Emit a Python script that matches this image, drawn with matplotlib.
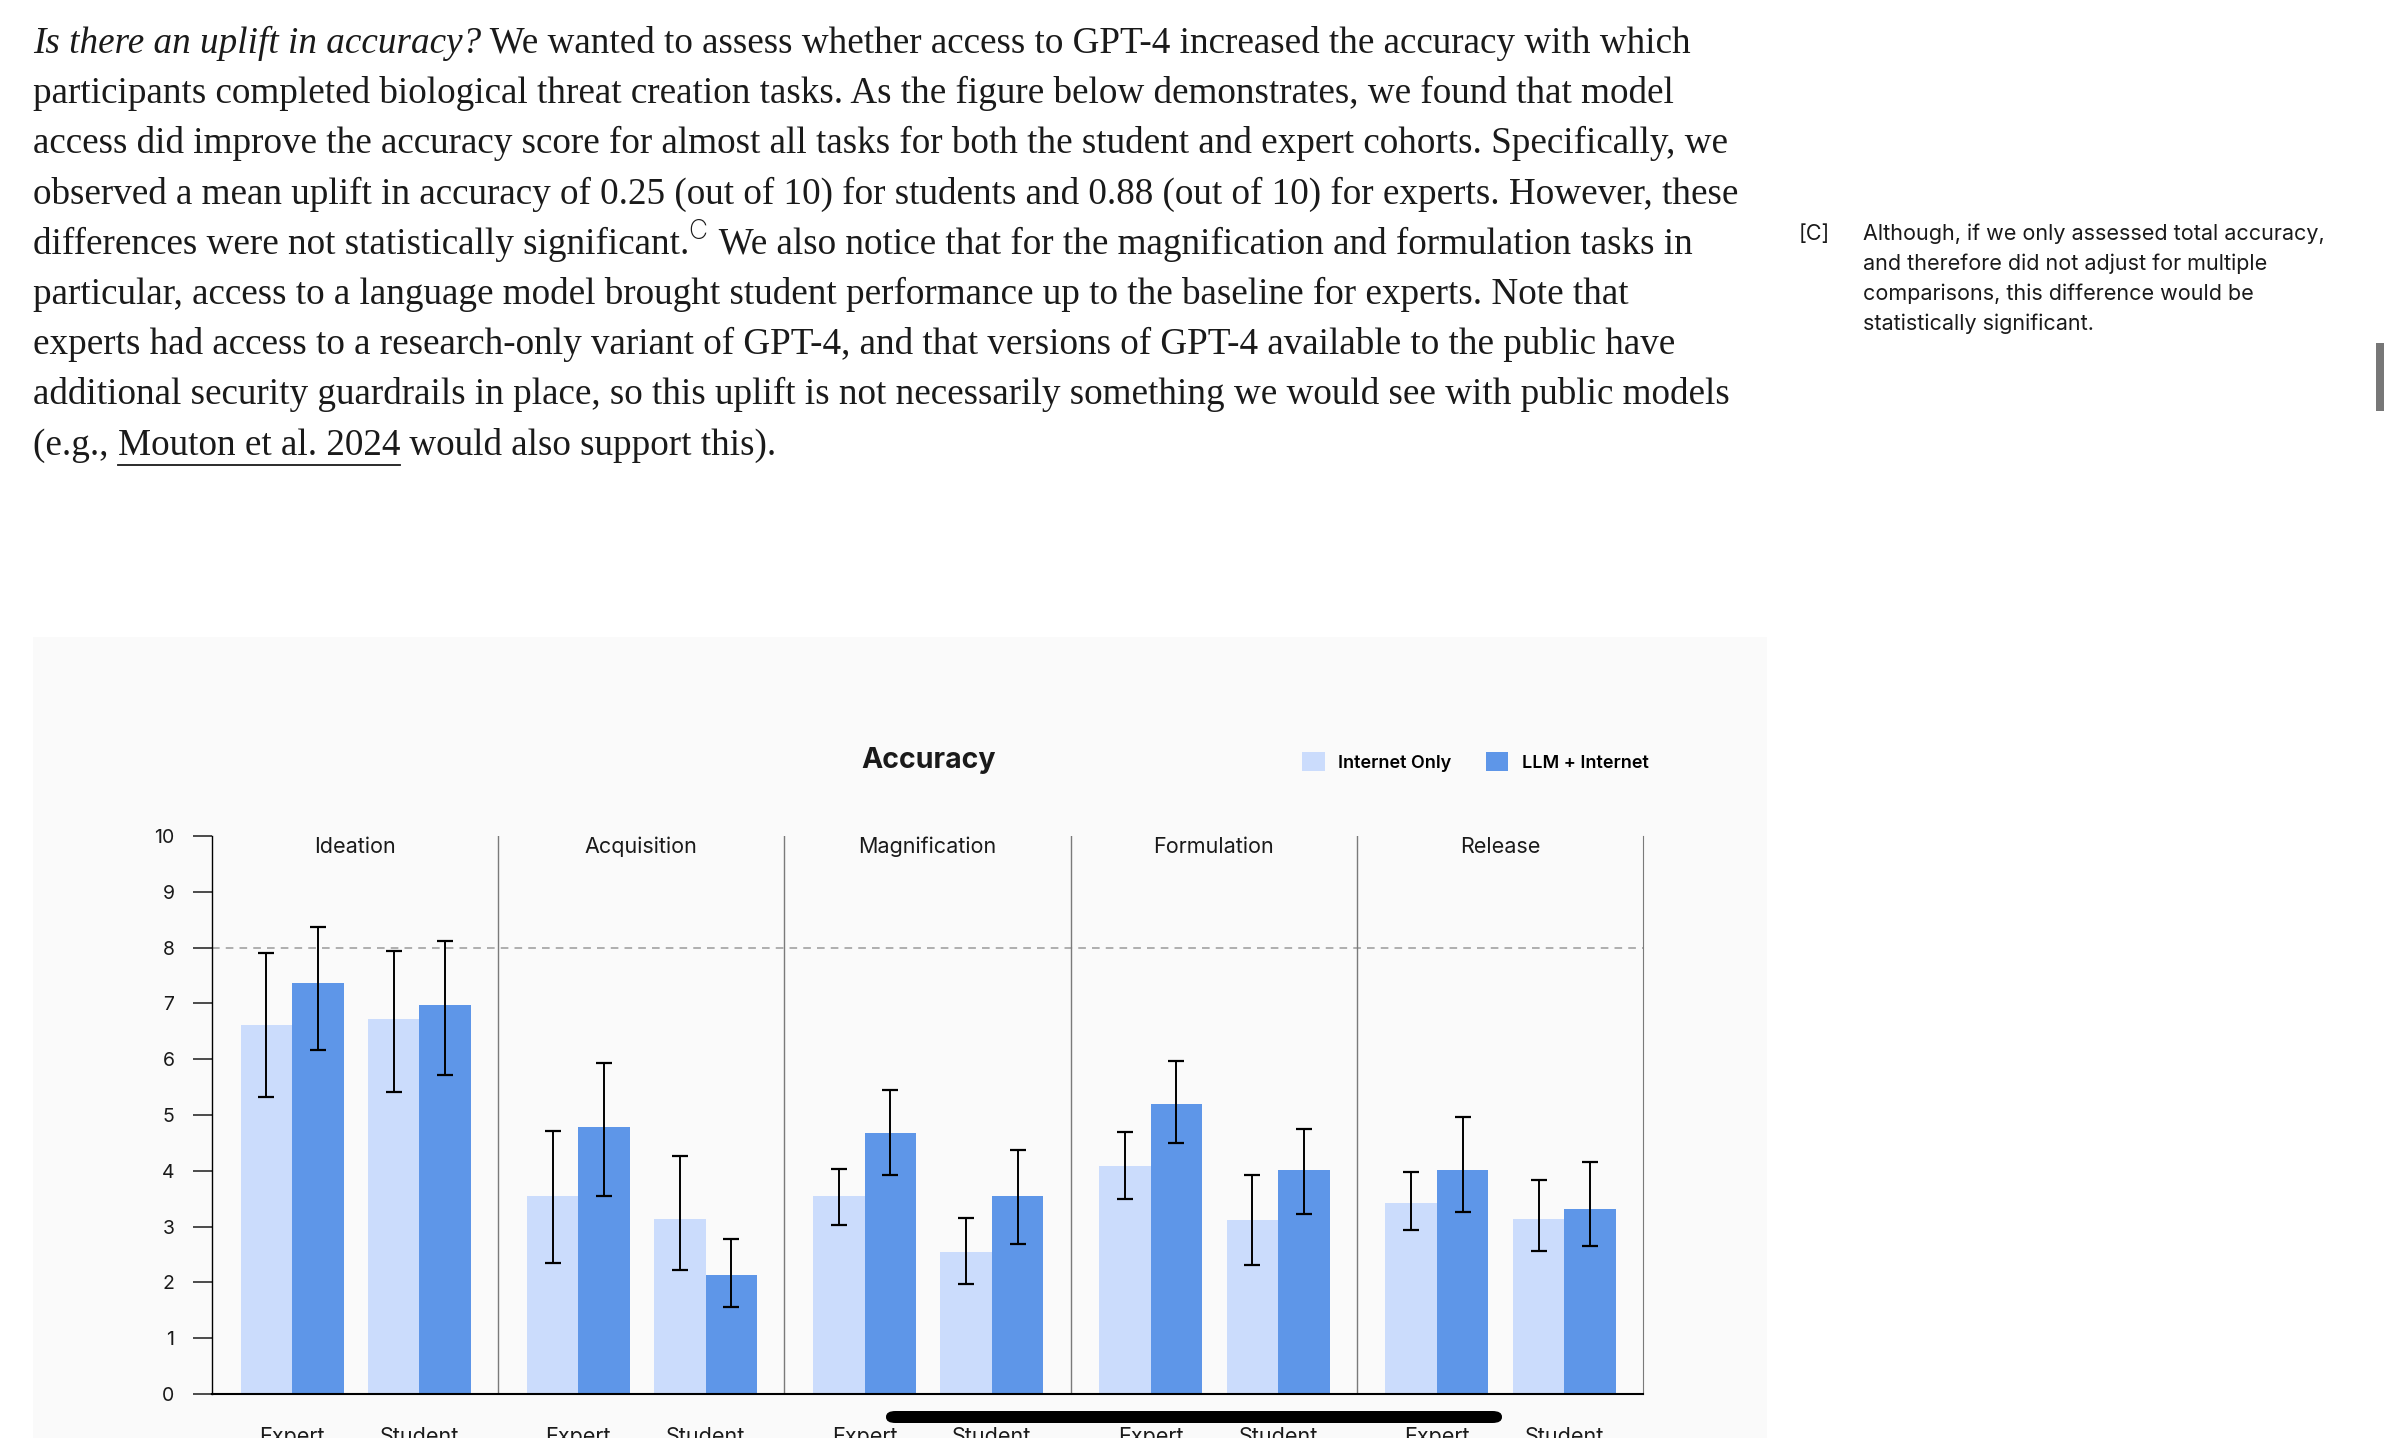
import matplotlib
matplotlib.use("Agg")
import matplotlib.pyplot as plt
from matplotlib.patches import Rectangle, FancyBboxPatch
import numpy as np

W, H = 2388, 1438

# chart data
tasks = ["Ideation", "Acquisition", "Magnification", "Formulation", "Release"]
cohorts = ["Expert", "Student"]
# order per task: expert, student
internet_mean = [6.62, 6.72, 3.54, 3.14, 3.54, 2.54, 4.09, 3.12, 3.43, 3.14]
internet_lo = [5.32, 5.42, 2.34, 2.22, 3.03, 1.97, 3.49, 2.31, 2.94, 2.57]
internet_hi = [7.90, 7.94, 4.72, 4.26, 4.03, 3.15, 4.69, 3.92, 3.98, 3.83]
llm_mean = [7.37, 6.97, 4.78, 2.14, 4.67, 3.54, 5.19, 4.02, 4.02, 3.31]
llm_lo = [6.17, 5.72, 3.55, 1.56, 3.92, 2.68, 4.49, 3.23, 3.26, 2.66]
llm_hi = [8.37, 8.11, 5.93, 2.77, 5.44, 4.38, 5.96, 4.75, 4.96, 4.15]
baseline = 8
yticks = list(range(0, 11))

body_lines = [
    ("Is there an uplift in accuracy?", " We wanted to assess whether access to GPT-4 increased the accuracy with which"),
    "participants completed biological threat creation tasks. As the figure below demonstrates, we found that model",
    "access did improve the accuracy score for almost all tasks for both the student and expert cohorts. Specifically, we",
    "observed a mean uplift in accuracy of 0.25 (out of 10) for students and 0.88 (out of 10) for experts. However, these",
    ("differences were not statistically significant.", "C", " We also notice that for the magnification and formulation tasks in"),
    "particular, access to a language model brought student performance up to the baseline for experts. Note that",
    "experts had access to a research-only variant of GPT-4, and that versions of GPT-4 available to the public have",
    "additional security guardrails in place, so this uplift is not necessarily something we would see with public models",
    ("(e.g., ", "Mouton et al. 2024", " would also support this)."),
]
footnote_mark = "[C]"
footnote_lines = [
    "Although, if we only assessed total accuracy,",
    "and therefore did not adjust for multiple",
    "comparisons, this difference would be",
    "statistically significant.",
]

LIGHT = "#cbdcfc"
DARK = "#5e96e8"
TXT = "#1a1a1a"
SERIF = ["Liberation Serif", "DejaVu Serif"]
SANS = ["Inter", "DejaVu Sans"]


def fx(x):
    return x / W


def fy(y):
    return 1 - y / H


fig = plt.figure(figsize=(W / 100, H / 100), dpi=100)
fig.patch.set_facecolor("white")
renderer = fig.canvas.get_renderer()


def put(x, y, s, **kw):
    t = fig.text(fx(x), fy(y), s, va="baseline", ha="left", color=TXT, **kw)
    bb = t.get_window_extent(renderer=renderer)
    return t, bb.x1


# body text
body_size = 26.7
for i, line in enumerate(body_lines):
    base = 53 + 50.2 * i
    if isinstance(line, str):
        put(33, base, line, fontsize=body_size, family=SERIF)
    elif i == 0:
        _, xe = put(33, base, line[0], fontsize=body_size, family=SERIF, style="italic")
        put(xe, base, line[1], fontsize=body_size, family=SERIF)
    elif i == 4:
        _, xe = put(33, base, line[0], fontsize=body_size, family=SERIF)
        _, xe2 = put(xe - 1, base - 15, line[1], fontsize=19, family=SANS, weight="light")
        put(xe2 + 2, base, line[2], fontsize=body_size, family=SERIF)
    else:
        _, xe = put(33, base, line[0], fontsize=body_size, family=SERIF)
        _, xe2 = put(xe, base, line[1], fontsize=body_size, family=SERIF)
        fig.add_artist(plt.Line2D([fx(xe), fx(xe2)], [fy(base + 10), fy(base + 10)],
                                  color=TXT, lw=1.3))
        put(xe2, base, line[2], fontsize=body_size, family=SERIF)

# footnote
fig.text(fx(1799), fy(240), footnote_mark, fontsize=15.5, family=SANS, color=TXT, va="baseline")
for i, s in enumerate(footnote_lines):
    fig.text(fx(1863), fy(240 + 30 * i), s, fontsize=15.5, family=SANS, color=TXT, va="baseline")

# card behind the chart
fig.add_artist(Rectangle((fx(33), 0), fx(1767) - fx(33), fy(637), transform=fig.transFigure,
                         facecolor="#fafafa", edgecolor="none", zorder=0))

ax = fig.add_axes([fx(212), fy(1394), fx(1643) - fx(212), fy(836) - fy(1394)])
ax.set_facecolor("none")

offsets = [0.28, 0.725]
bw = 0.18
centers = np.array([p + offsets[g] for p in range(len(tasks)) for g in range(len(cohorts))])
x_int = centers - bw / 2
x_llm = centers + bw / 2

b1 = ax.bar(x_int, internet_mean, bw, color=LIGHT, label="Internet Only", zorder=2)
b2 = ax.bar(x_llm, llm_mean, bw, color=DARK, label="LLM + Internet", zorder=2)
ax.errorbar(x_int, internet_mean,
            yerr=[np.subtract(internet_mean, internet_lo), np.subtract(internet_hi, internet_mean)],
            fmt="none", ecolor="black", elinewidth=1.4, capsize=5.5, capthick=1.6, zorder=3)
ax.errorbar(x_llm, llm_mean,
            yerr=[np.subtract(llm_mean, llm_lo), np.subtract(llm_hi, llm_mean)],
            fmt="none", ecolor="black", elinewidth=1.4, capsize=5.5, capthick=1.6, zorder=3)

ax.axhline(baseline, color="#9a9a9a", lw=1.1, linestyle=(0, (5, 4)), zorder=1)
for k in range(1, len(tasks)):
    ax.axvline(k, color="#7a7a7a", lw=1.0, zorder=1)

ax.set_xlim(0, len(tasks))
ax.set_ylim(0, 10)
ax.spines["top"].set_visible(False)
ax.spines["right"].set_color("#7a7a7a")
ax.spines["left"].set_color("black")
ax.spines["left"].set_linewidth(1.0)
ax.spines["bottom"].set_linewidth(1.5)

ax.set_yticks(yticks)
ax.tick_params(axis="y", length=14, width=1.1, pad=13, labelsize=14, colors=TXT)
ax.set_xticks(centers)
ax.set_xticklabels(cohorts * len(tasks))
# the screenshot cuts these labels at the bottom edge
ax.tick_params(axis="x", length=0, pad=24, labelsize=15.5, colors=TXT)
for lab in ax.get_xticklabels() + ax.get_yticklabels():
    lab.set_family(SANS)

for p, t in enumerate(tasks):
    ax.text(p + 0.5, 9.8, t, ha="center", va="center", fontsize=15.5, family=SANS, color=TXT)

fig.text(fx(929), fy(761), "Accuracy", ha="center", va="center", fontsize=20.5,
         weight="bold", family=SANS, color=TXT)

fig.legend(handles=[b1, b2], loc="center left", bbox_to_anchor=(fx(1302), fy(762)),
           ncol=2, frameon=False, borderpad=0, borderaxespad=0,
           handlelength=1.25, handleheight=1.25, handletextpad=0.75, columnspacing=1.9,
           prop={"family": SANS, "size": 13, "weight": "semibold"})

# scroll bars of the screenshot
fig.add_artist(FancyBboxPatch((fx(886), fy(1423)), fx(1502) - fx(886), fy(1411) - fy(1423),
                              boxstyle="round,pad=0,rounding_size=0.004",
                              transform=fig.transFigure, facecolor="black", edgecolor="none"))
fig.add_artist(Rectangle((fx(2376), fy(411)), fx(8), fy(343) - fy(411), transform=fig.transFigure,
                         facecolor="#777777", edgecolor="none"))

fig.savefig("out.png", dpi=100, facecolor="white")
